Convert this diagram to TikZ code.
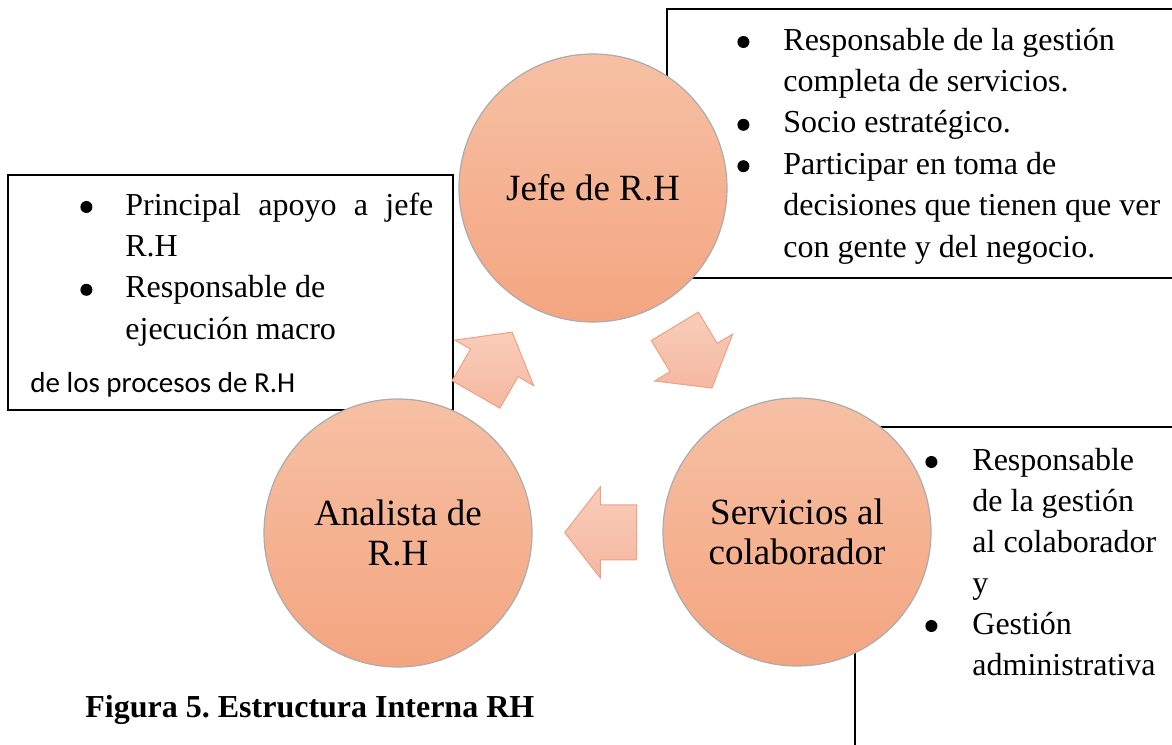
\documentclass[tikz,border=0pt]{standalone}
\usepackage{fontspec}
\setmainfont{Liberation Serif}
\newfontfamily\calibrifont{Carlito}
\usetikzlibrary{shapes.arrows,calc}
\frenchspacing

\definecolor{circtop}{RGB}{246,192,164}
\definecolor{circbot}{RGB}{244,165,128}
\definecolor{flechatop}{RGB}{249,205,186}
\definecolor{flechabot}{RGB}{245,184,160}
\definecolor{flechaedge}{RGB}{236,162,134}

\newcommand{\vineta}{\tikz[baseline=-4pt]\fill (3pt,0pt) circle (3pt);}

\tikzset{
	rol/.style={circle, draw=gray!65, line width=0.6pt, top color=circtop, bottom color=circbot,
		minimum size=134pt, inner sep=0pt, align=center, font=\fontsize{18.5}{20}\selectfont},
	flecha/.style={single arrow, top color=flechatop, bottom color=flechabot, draw=flechaedge, line width=0.5pt,
		inner xsep=0pt, inner ysep=13.5pt, single arrow head extend=9pt,
		single arrow tip angle=104, minimum height=36pt},
	caja/.style={draw, line width=0.6pt},
	lista/.style={anchor=base west, inner sep=0pt, font=\fontsize{16}{20.7}\selectfont},
}

\begin{document}
\begin{tikzpicture}[x=0.5pt,y=-0.5pt]
	
	\useasboundingbox (0,0) rectangle (1172,744);
	\clip (0,0) rectangle (1172,744);
	
	% cajas de texto
	\draw[caja] (8,175) rectangle (453,410);
	\draw[caja] (667,9) rectangle (1190,278);
	\draw[caja] (855,427) rectangle (1190,760);
	
	\node[lista] (txtanalista) at (80,215) {\begin{tabular}[t]{@{}p{22.5pt}@{}l@{}}
			\vineta & \makebox[154pt][s]{Principal apoyo a jefe}\\
			& R.H\\
			\vineta & Responsable de\\
			& ejecución macro
	\end{tabular}};
	\node[lista, font=\calibrifont\fontsize{14.5}{17}\selectfont] (txtprocesos) at (30,392) {de los procesos de R.H};
	
	\node[lista] (txtjefe) at (737,50) {\begin{tabular}[t]{@{}p{23pt}@{}l@{}}
			\vineta & Responsable de la gestión\\
			& completa de servicios.\\
			\vineta & Socio estratégico.\\
			\vineta & Participar en toma de\\
			& decisiones que tienen que ver\\
			& con gente y del negocio.
	\end{tabular}};
	
	\node[lista, font=\fontsize{16}{20.5}\selectfont] (txtservicios) at (925,470) {\begin{tabular}[t]{@{}p{23.5pt}@{}l@{}}
			\vineta & Responsable\\
			& de la gestión\\
			& al colaborador\\
			& y\\
			\vineta & Gestión\\
			& administrativa
	\end{tabular}};
	
	% roles
	\node[rol] (jefe) at (593,188) {Jefe de R.H};
	\node[rol] (analista) at (398,533) {Analista de\\R.H};
	\node[rol] (servicios) at (797,532) {Servicios al\\colaborador};
	
	% flechas
	\node[flecha, rotate=60] (f1) at ($(analista)!0.465!(jefe)$) {};
	\node[flecha, rotate=-59] (f2) at ($(jefe)!0.465!(servicios)$) {};
	\node[flecha, rotate=180] (f3) at ($(servicios)!0.465!(analista)$) {};
	
	\node[anchor=base west, inner sep=0pt, font=\bfseries\fontsize{16}{19}\selectfont] (titulo) at (85,717) {Figura 5. Estructura Interna RH};
	
\end{tikzpicture}
\end{document}
